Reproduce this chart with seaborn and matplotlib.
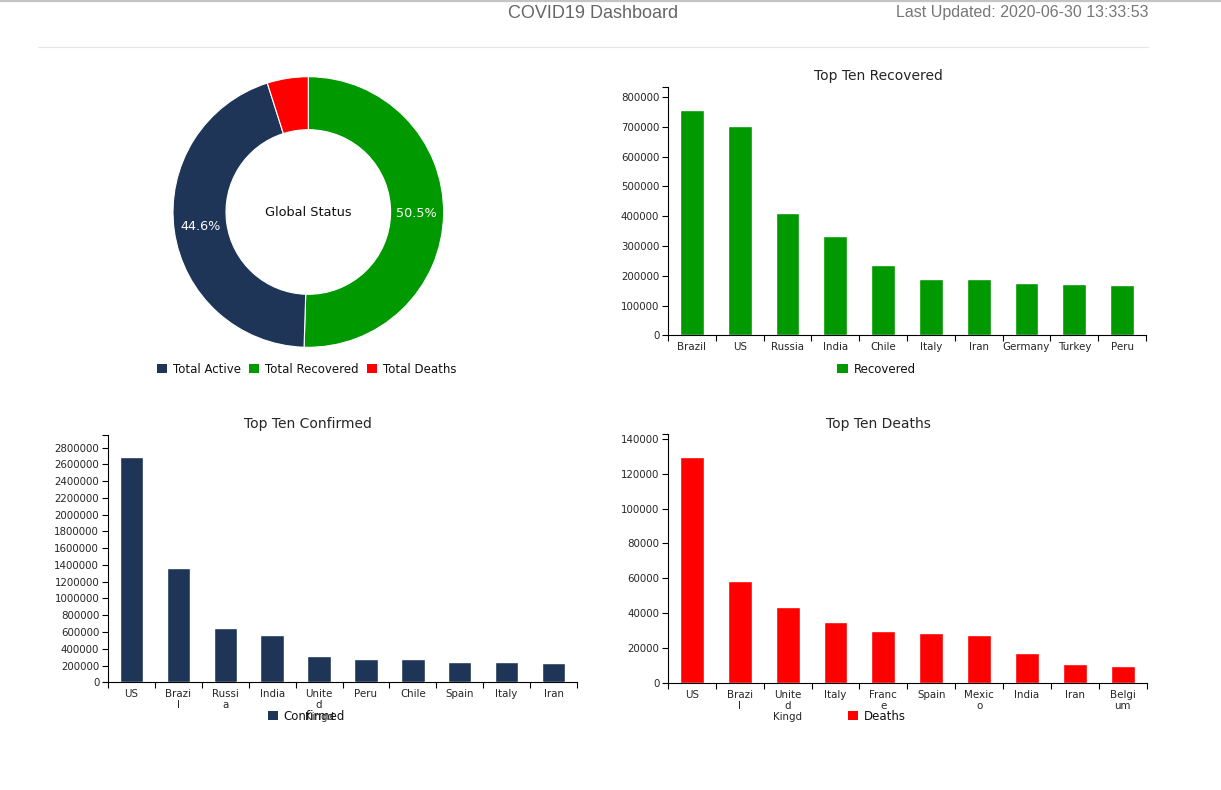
import numpy as np
import seaborn as sns
import matplotlib.pyplot as plt
from matplotlib.patches import Patch
from matplotlib.lines import Line2D

# values (2020-06-30)
pie_names = ['Total Recovered', 'Total Active', 'Total Deaths']
pie_values = [50.5, 44.6, 4.9]

rec_countries = ['Brazil', 'US', 'Russia', 'India', 'Chile', 'Italy', 'Iran', 'Germany', 'Turkey', 'Peru']
rec_values = [757000, 703500, 411000, 334000, 236000, 189500, 189000, 176000, 172500, 169000]
rec_ticks = rec_countries

conf_countries = ['US', 'Brazil', 'Russia', 'India', 'United Kingdom', 'Peru', 'Chile', 'Spain', 'Italy', 'Iran']
conf_values = [2685000, 1362000, 647000, 564000, 313000, 279000, 278000, 244000, 240000, 230000]
conf_ticks = ['US', 'Brazi\nl', 'Russi\na', 'India', 'Unite\nd\nKingd', 'Peru', 'Chile', 'Spain', 'Italy', 'Iran']

death_countries = ['US', 'Brazil', 'United Kingdom', 'Italy', 'France', 'Spain', 'Mexico', 'India', 'Iran', 'Belgium']
death_values = [129700, 58400, 43500, 34800, 29700, 28400, 27400, 17000, 10800, 9700]
death_ticks = ['US', 'Brazi\nl', 'Unite\nd\nKingd', 'Italy', 'Franc\ne', 'Spain', 'Mexic\no', 'India', 'Iran', 'Belgi\num']

navy = '#1f3557'
green = '#009900'
red = '#ff0000'

sns.set_style('ticks')
plt.rcParams['font.family'] = ['DejaVu Sans']

W, H = 1221, 790
fig = plt.figure(figsize=(W / 100, H / 100), dpi=100)


def px_axes(l, t, r, b):
    return fig.add_axes([l / W, 1 - b / H, (r - l) / W, (b - t) / H])


def fig_text(x, y, s, **kw):
    fig.text(x / W, 1 - y / H, s, **kw)


def px_legend(items, x, y):
    handles = [Patch(facecolor=c, edgecolor='none', label=n) for n, c in items]
    fig.legend(handles=handles, loc='center', bbox_to_anchor=(x / W, 1 - y / H),
               ncol=len(handles), frameon=False, fontsize=8.5, borderpad=0,
               handlelength=0.85, handleheight=0.85, handletextpad=0.5,
               columnspacing=0.7, labelcolor='#111111')


def bar_panel(rect, countries, values, ticks, color, step):
    ax = px_axes(*rect)
    sns.barplot(x=countries, y=values, color=color, saturation=1, width=0.5, ax=ax)
    n = len(countries)
    top = max(values) * 1.1
    ax.set_xlim(-0.5, n - 0.5)
    ax.set_ylim(0, top)
    ax.set_yticks(np.arange(0, top, step))
    ax.set_yticklabels([str(int(v)) for v in np.arange(0, top, step)])
    ax.set_yticks([top], minor=True)
    ax.set_xticks(np.arange(-0.5, n, 1))
    ax.set_xticklabels([''] * (n + 1))
    ax.set_xticks(range(n), minor=True)
    ax.set_xticklabels(ticks, minor=True, linespacing=1.15)
    ax.tick_params(axis='x', which='minor', length=0, pad=5, labelsize=7.4)
    ax.tick_params(axis='both', which='major', length=4.3, width=0.8, labelsize=7.4, color='black')
    ax.tick_params(axis='y', which='major', pad=2)
    ax.tick_params(axis='y', which='minor', length=4.3, width=0.8, color='black')
    sns.despine(ax=ax)
    for s in ['left', 'bottom']:
        ax.spines[s].set_linewidth(0.8)
        ax.spines[s].set_color('black')
    ax.set_xlabel('')
    ax.set_ylabel('')
    return ax


# header
fig.add_artist(Line2D([0, 1], [1 - 0.8 / H] * 2, color='#c4c4c4', lw=1.6))
fig.add_artist(Line2D([38 / W, 1148 / W], [1 - 46.5 / H] * 2, color='#e6e6e6', lw=0.8))
fig_text(593, 14, 'COVID19 Dashboard', ha='center', va='center', fontsize=13,
         color='#666666', family='Liberation Sans')
fig_text(1148, 13, 'Last Updated: 2020-06-30 13:33:53', ha='right', va='center',
         fontsize=11.5, color='#777777', family='Liberation Sans')

# donut
r = 135.3
pax = px_axes(308.3 - r, 212 - r, 308.3 + r, 212 + r)
pax.pie(pie_values, colors=[green, navy, red], startangle=90, counterclock=False,
        radius=1, wedgeprops=dict(width=53 / r, edgecolor='white', linewidth=0.8),
        autopct=lambda p: '%.1f%%' % p if p > 6 else '', pctdistance=0.8,
        textprops=dict(color='white', fontsize=9.2))
pax.set_xlim(-1, 1)
pax.set_ylim(-1, 1)
pax.text(0, 0, 'Global Status', ha='center', va='center', fontsize=9.3, color='#111111')
px_legend([('Total Active', navy), ('Total Recovered', green), ('Total Deaths', red)], 306.5, 369)

# bar panels
bar_panel((668, 87.3, 1146, 335.3), rec_countries, rec_values, rec_ticks, green, 100000)
fig_text(878, 76, 'Top Ten Recovered', ha='center', va='center', fontsize=10)
px_legend([('Recovered', green)], 876.5, 369)

bar_panel((108, 434.7, 577, 682.3), conf_countries, conf_values, conf_ticks, navy, 200000)
fig_text(308, 424, 'Top Ten Confirmed', ha='center', va='center', fontsize=10)
px_legend([('Confirmed', navy)], 306.5, 716)

bar_panel((668, 434.3, 1146.5, 682.7), death_countries, death_values, death_ticks, red, 20000)
fig_text(878, 424, 'Top Ten Deaths', ha='center', va='center', fontsize=10)
px_legend([('Deaths', red)], 876.5, 716)

plt.savefig('out.png', dpi=100)
